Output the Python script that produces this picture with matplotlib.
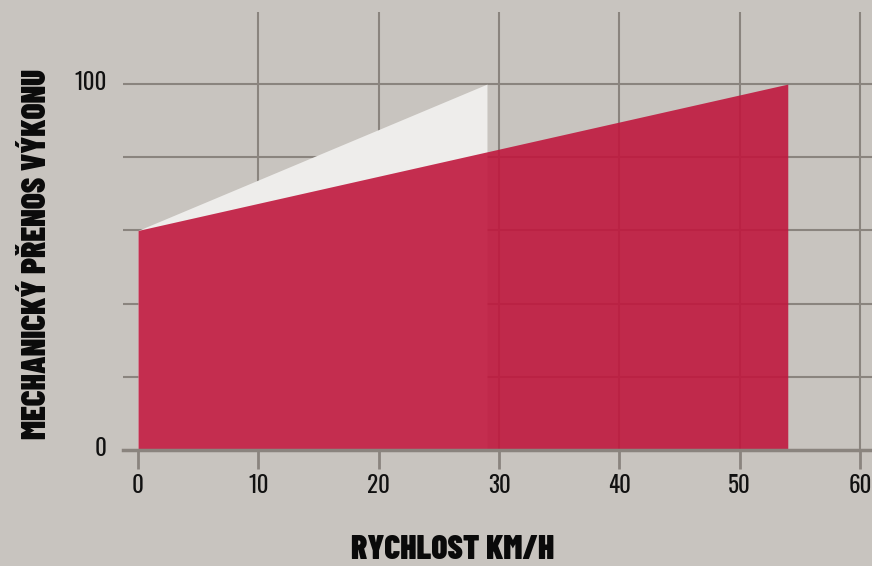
import matplotlib
matplotlib.use("Agg")
import matplotlib.pyplot as plt
import matplotlib.transforms as mtransforms

# Data
white_x = [0, 29]
white_y = [60, 100]
red_x = [0, 54]
red_y = [60, 100]
x_ticks = [0, 10, 20, 30, 40, 50, 60]
y_ticks = [0, 20, 40, 60, 80, 100]
y_tick_labels = ["0", "", "", "", "", "100"]
x_label = "RYCHLOST KM/H"
y_label = "MECHANICKÝ PŘENOS VÝKONU"

TICK_FONT = ["Oswald", "DejaVu Sans"]
TITLE_FONT = ["Barlow Condensed", "DejaVu Sans"]

BG = "#c8c4bf"
GRID = "#8a847e"

fig = plt.figure(figsize=(8.72, 5.66), dpi=100, facecolor=BG)
ax = fig.add_axes([123/872, 116/566, 1 - 123/872, (554-116)/566])
ax.set_facecolor(BG)
ax.set_xlim(-1.25, 61.0)
ax.set_ylim(0, 119.7)

# grid
for yv in y_ticks[1:]:
    ax.axhline(yv, color=GRID, lw=1.5, zorder=1)
for xv in x_ticks[1:]:
    ax.axvline(xv, color=GRID, lw=1.5, zorder=1)

ax.fill_between(white_x, 0, white_y, color="#eeedeb", lw=0, zorder=2)
ax.fill_between(red_x, 0, red_y, color=(192/255, 24/255, 62/255), alpha=0.9, lw=0, zorder=3)

for s in ["top", "right", "left"]:
    ax.spines[s].set_visible(False)
ax.spines["bottom"].set_color(GRID)
ax.spines["bottom"].set_linewidth(2.5)
ax.spines["bottom"].set_zorder(4)

ax.set_xticks(x_ticks)
ax.set_xticklabels([str(v) for v in x_ticks], fontsize=16.5, family=TICK_FONT,
                   fontweight="light", color="#111111")
ax.tick_params(axis="x", length=14, width=2, color=GRID, pad=3)
ax.set_yticks(y_ticks)
ax.set_yticklabels(y_tick_labels, fontsize=16.5, family=TICK_FONT,
                   fontweight="light", color="#111111")
ax.tick_params(axis="y", length=0, pad=12)
shift = mtransforms.ScaledTranslation(0, 4/100, fig.dpi_scale_trans)
for lbl in ax.get_yticklabels():
    lbl.set_verticalalignment("center_baseline")
    lbl.set_transform(lbl.get_transform() + shift)

fig.text(453/872, 1 - 550/566, x_label, ha="center", va="center",
         fontsize=24, fontweight=900, family=TITLE_FONT, color="#0a0a0a")
fig.text(37/872, 1 - 254/566, y_label, ha="center", va="center", rotation=90,
         fontsize=24, fontweight=900, family=TITLE_FONT, color="#0a0a0a")

fig.savefig("out.png", dpi=100, facecolor=BG)
